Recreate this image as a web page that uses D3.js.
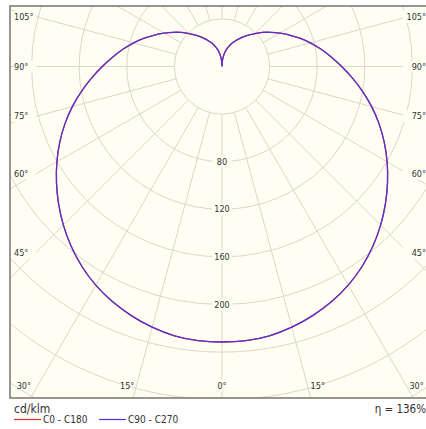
<!DOCTYPE html>
<html>
<head>
<meta charset="utf-8">
<script src="https://cdn.jsdelivr.net/npm/d3@7"></script>
<style>
  body { margin: 0; background: #fff; }
  svg { display: block; }
  text { font-family: "DejaVu Sans Condensed", "DejaVu Sans", sans-serif; fill: #333; }
</style>
</head>
<body>
<script>
// gamma angles (deg) and intensities in cd/klm
const gamma = [0, 5, 10, 15, 20, 25, 30, 35, 40, 45, 50, 55, 60, 65, 70, 75, 80, 85, 90,
               95, 100, 105, 110, 115, 120, 125, 130, 135, 140, 145, 150, 155, 160, 165, 170, 175, 180];
const c90c270 = [231.5, 231.2, 229.8, 226.8, 222.8, 218, 212.2, 205.2, 197.2, 188.5, 179.3, 169.8, 160.2,
                 150.4, 140.4, 130.2, 119.9, 109.9, 100.6, 92.1, 84.3, 76.8, 69.5, 62.6, 56.1, 50.1, 44.5,
                 39.2, 34.4, 30.1, 26.1, 22.4, 18.8, 15.1, 10.9, 6, 0];
const c0c180 = c90c270.slice();
const ringValues = [40, 80, 120, 160, 200, 240, 280, 320, 360, 400, 440, 480];
const ringLabels = [80, 120, 160, 200];
const spokeAngles = d3.range(0, 360, 15);
const sideLabels = [105, 90, 75, 60, 45];
const bottomLabels = [30, 15, 0];

const width = 426, height = 429;
const frame = {left: 10, top: 6, right: 434, bottom: 398};
const cx = 222, cy = 66.5;
const bg = "#fefef2";
const gridColor = "#ddd6c9";

const r = d3.scaleLinear().domain([0, 40]).range([0, 47.6]);

const svg = d3.select("body").append("svg")
    .attr("width", width).attr("height", height);

svg.append("defs").append("clipPath").attr("id", "clip")
    .append("rect")
    .attr("x", frame.left).attr("y", frame.top)
    .attr("width", frame.right - frame.left).attr("height", frame.bottom - frame.top);

svg.append("rect")
    .attr("x", frame.left).attr("y", frame.top)
    .attr("width", frame.right - frame.left).attr("height", frame.bottom - frame.top)
    .attr("fill", bg);

const plot = svg.append("g").attr("clip-path", "url(#clip)");
const g = plot.append("g").attr("transform", `translate(${cx},${cy})`);

// rings
g.selectAll(".ring").data(ringValues).join("circle")
    .attr("r", d => r(d))
    .attr("fill", "none")
    .attr("stroke", gridColor)
    .attr("stroke-width", 1);

// spokes, gamma measured from straight down
const rad = d => d * Math.PI / 180;
g.selectAll(".spoke").data(spokeAngles).join("line")
    .attr("x1", d => r(40) * Math.sin(rad(d)))
    .attr("y1", d => r(40) * Math.cos(rad(d)))
    .attr("x2", d => r(600) * Math.sin(rad(d)))
    .attr("y2", d => r(600) * Math.cos(rad(d)))
    .attr("stroke", gridColor)
    .attr("stroke-width", 1);

// curves
function pts(values) {
    const left = gamma.map((gm, i) => [Math.PI + rad(gm), r(values[i])]).reverse();
    const right = gamma.map((gm, i) => [Math.PI - rad(gm), r(values[i])]).slice(1);
    return left.concat(right);
}
const line = d3.lineRadial().curve(d3.curveCatmullRom);

g.append("path").attr("d", line(pts(c0c180)))
    .attr("fill", "none").attr("stroke", "#e8302a").attr("stroke-width", 1.3);
g.append("path").attr("d", line(pts(c90c270)))
    .attr("fill", "none").attr("stroke", "#5631d6").attr("stroke-width", 1.3);

// ring value labels on the 0 degree spoke
const fs = "9px";
const rl = g.selectAll(".rl").data(ringLabels).join("g")
    .attr("transform", d => `translate(0,${r(d)})`);
rl.append("rect").attr("x", -10).attr("y", -6).attr("width", 20).attr("height", 12).attr("fill", bg);
rl.append("text").attr("text-anchor", "middle").attr("dy", "0.35em")
    .style("font-size", fs).text(d => d);

// angle labels on the sides
const insetX = 26;
sideLabels.forEach(a => {
    const dx = cx - (frame.left + insetX);
    const y = cy + dx / Math.tan(rad(a));
    svg.append("rect").attr("x", frame.left + 3).attr("y", y - 6).attr("width", 23).attr("height", 12).attr("fill", bg);
    svg.append("text").attr("x", frame.left + 4).attr("y", y).attr("dy", "0.35em")
        .style("font-size", fs).text(a + "°");
    svg.append("rect").attr("x", frame.right - 31).attr("y", y - 6).attr("width", 24).attr("height", 12).attr("fill", bg);
    svg.append("text").attr("x", frame.right - 8).attr("y", y).attr("dy", "0.35em")
        .attr("text-anchor", "end").style("font-size", fs).text(a + "°");
});

// angle labels along the bottom
const by = frame.bottom - 12;
bottomLabels.forEach(a => {
    const dx = (by - cy) * Math.tan(rad(a));
    if (a === 0) {
        svg.append("rect").attr("x", cx - 7).attr("y", by - 6).attr("width", 14).attr("height", 12).attr("fill", bg);
        svg.append("text").attr("x", cx).attr("y", by).attr("dy", "0.35em")
            .attr("text-anchor", "middle").style("font-size", fs).text(a + "°");
        return;
    }
    const xl = Math.min(cx - dx - 2, frame.left + 21);
    const xr = cx + dx + 3;
    svg.append("text").attr("x", a === 30 ? frame.left + 21 : cx - dx - 2).attr("y", by).attr("dy", "0.35em")
        .attr("text-anchor", "end").style("font-size", fs).text(a + "°");
    svg.append("text").attr("x", xr).attr("y", by).attr("dy", "0.35em")
        .style("font-size", fs).text(a + "°");
});

// frame border
svg.append("path")
    .attr("d", `M${frame.left},${frame.bottom}V${frame.top}H${frame.right}V${frame.bottom}Z`)
    .attr("fill", "none").attr("stroke", "#77766f").attr("stroke-width", 1.5);

// legend
svg.append("text").attr("x", 14).attr("y", 413).style("font-size", "12px").text("cd/klm");
svg.append("text").attr("x", 426).attr("y", 413).attr("text-anchor", "end")
    .style("font-size", "11.5px").text("η = 136%");

const legend = [
    {name: "C0 - C180", color: "#e8302a", x: 14},
    {name: "C90 - C270", color: "#5631d6", x: 99}
];
legend.forEach(l => {
    svg.append("line").attr("x1", l.x).attr("x2", l.x + 27).attr("y1", 419.5).attr("y2", 419.5)
        .attr("stroke", l.color).attr("stroke-width", 1.2);
    svg.append("text").attr("x", l.x + 29).attr("y", 423).style("font-size", "10px").text(l.name);
});
</script>
</body>
</html>
